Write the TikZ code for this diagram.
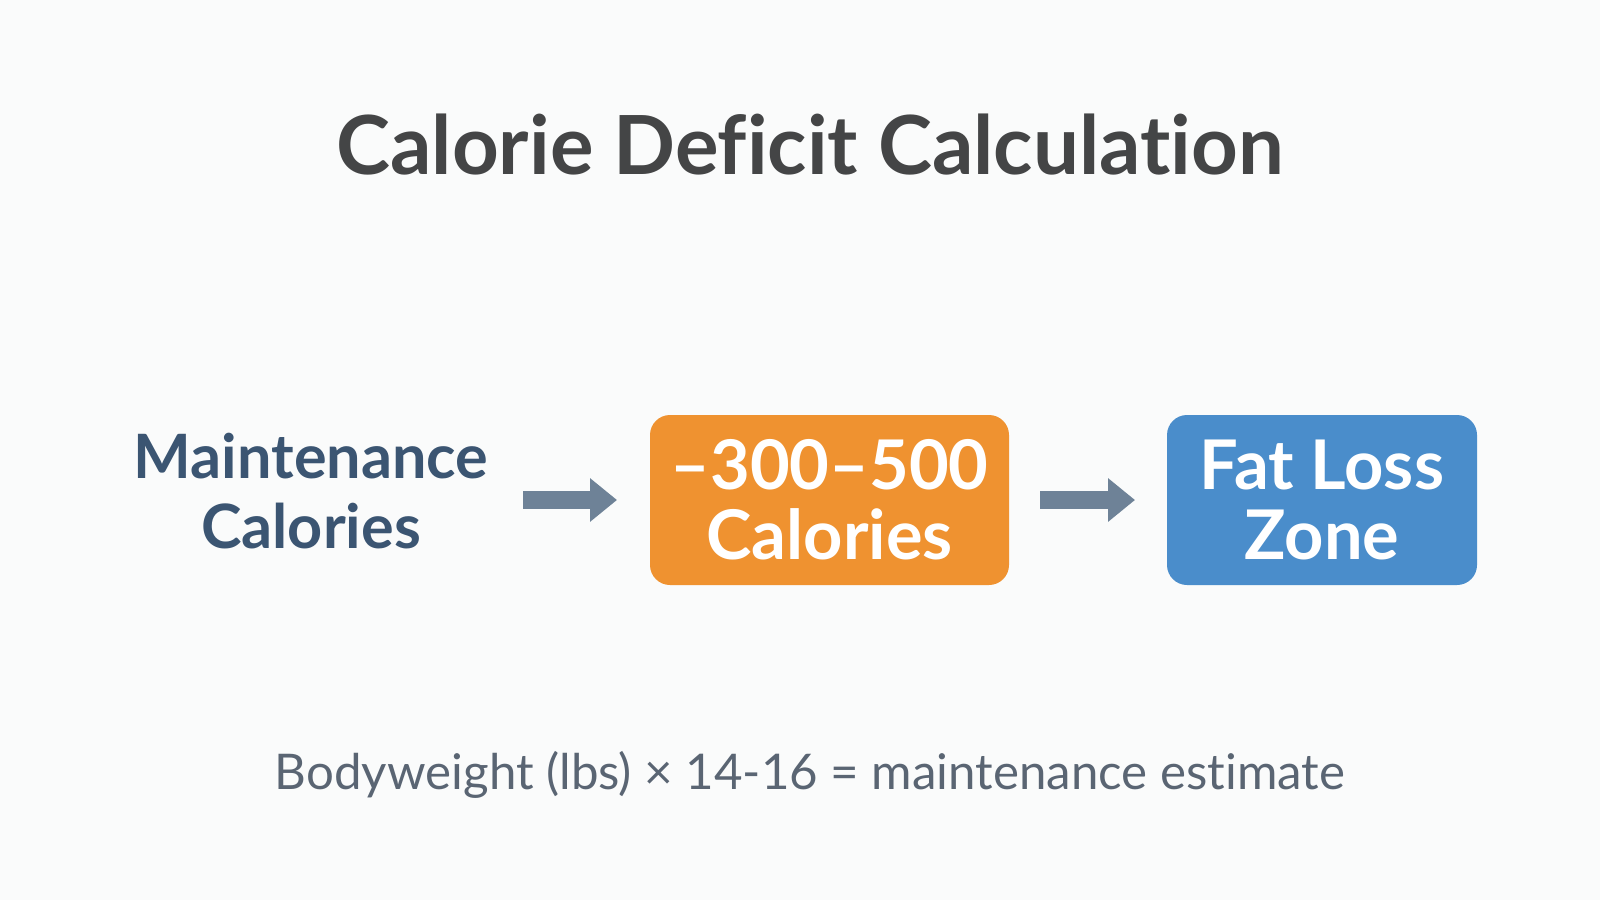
\documentclass[tikz,border=0pt]{standalone}
\usepackage{fontspec}
\setmainfont{Lato}[Ligatures=NoCommon]
\usepackage{tikz}
\usetikzlibrary{arrows.meta}
\usetikzlibrary{positioning}

\definecolor{bgwhite}{HTML}{FAFBFB}
\definecolor{titlegray}{HTML}{444546}
\definecolor{navytext}{HTML}{3B5572}
\definecolor{deficitorange}{HTML}{EF9230}
\definecolor{zoneblue}{HTML}{4A8DCB}
\definecolor{arrowgray}{HTML}{6E8297}
\definecolor{notegray}{HTML}{5A6573}

\begin{document}
\begin{tikzpicture}[font=\bfseries, node distance=1.58cm, semithick]
            \tikzstyle{every node}=[inner sep=0pt, outer sep=0pt]
            \tikzstyle{box}=[rounded corners=0.2cm, minimum height=1.7cm, text=white, align=center,
                font=\bfseries\fontsize{19.5}{20}\selectfont]
            \tikzstyle{flow}=[-{Triangle[length=0.27cm, width=0.42cm]}, line width=0.18cm, color=arrowgray]

            \fill[bgwhite] (0,0) rectangle (16,9);
            \useasboundingbox (0,0) rectangle (16,9);

            \node[text=titlegray, font=\bfseries\fontsize{23.2}{26}\selectfont] (title) at (8.1,7.55) {Calorie Deficit Calculation};

            \node[box, fill=deficitorange, minimum width=3.59cm] (deficit) at (8.295,4.0) {–300–500\\Calories};
            \node[box, fill=zoneblue, minimum width=3.10cm] (zone) [right=of deficit] {Fat Loss\\Zone};
            \node[text=navytext, align=center, font=\bfseries\fontsize{17.4}{20}\selectfont] (maint) at (3.11,4.09) {Maintenance\\Calories};

            \draw[flow, shorten <=0.35cm, shorten >=0.33cm] (maint.east |- deficit.west) -- (deficit.west);
            \draw[flow, shorten <=0.31cm, shorten >=0.32cm] (deficit) -- (zone);

            \node[text=notegray, font=\fontsize{14}{16}\selectfont] (note) at (8.1,1.25) {Bodyweight (lbs) × 14-16 = maintenance estimate};
        \end{tikzpicture}
\end{document}
